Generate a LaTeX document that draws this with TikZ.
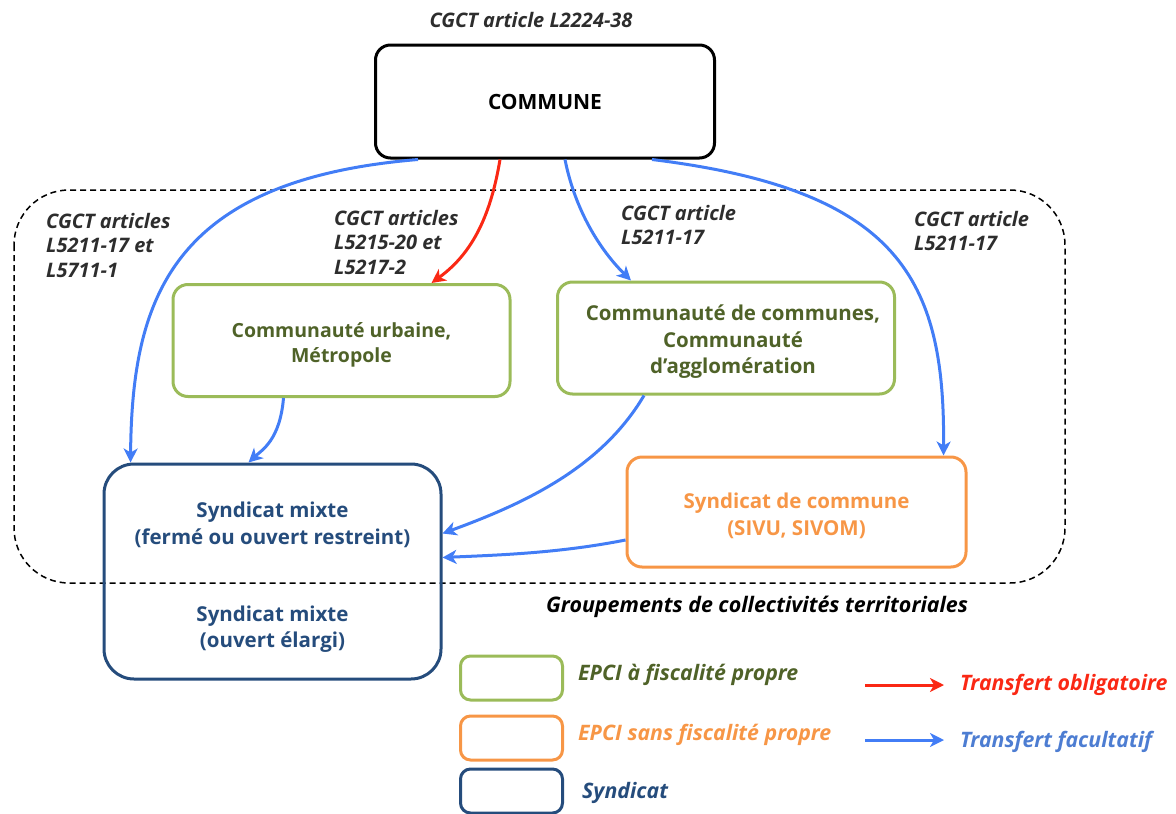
\documentclass[tikz,border=0pt]{standalone}
\usepackage{fontspec}
\setmainfont{Open Sans}
\usetikzlibrary{arrows.meta,calc}
\definecolor{arrblue}{RGB}{66,125,246}
\definecolor{arrred}{RGB}{250,40,20}
\definecolor{gborder}{RGB}{155,187,89}
\definecolor{gtext}{RGB}{79,98,40}
\definecolor{oborder}{RGB}{247,150,70}
\definecolor{navy}{RGB}{37,76,124}
\definecolor{legblue}{RGB}{77,125,210}
\definecolor{lbl}{RGB}{45,45,45}
\tikzset{
  boxbase/.style={rectangle, rounded corners=15pt, line width=3pt},
  commbox/.style={boxbase, draw=black, minimum width=339pt, minimum height=113pt},
  greenbox/.style={boxbase, draw=gborder, minimum width=337pt, minimum height=112pt},
  orangebox/.style={boxbase, draw=oborder, minimum width=339pt, minimum height=110pt},
  navybox/.style={boxbase, rounded corners=30pt, draw=navy, minimum width=337pt, minimum height=215pt},
  boxtext/.style={align=center, font=\fontsize{20.5}{26.5}\selectfont\bfseries},
  legbox/.style={rectangle, rounded corners=10pt, line width=3pt, minimum width=102pt, minimum height=44pt},
  lab/.style={align=left, anchor=north west, text=lbl, font=\fontsize{20}{24.5}\selectfont\bfseries\itshape, inner sep=0pt},
  legtext/.style={anchor=west, font=\fontsize{21.3}{24}\selectfont\bfseries\itshape, inner sep=0pt},
  blueflow/.style={draw=arrblue, line width=3pt, -{Stealth[length=14pt,width=14pt,inset=4pt]}},
  redflow/.style={draw=arrred, line width=3pt, -{Stealth[length=14pt,width=14pt,inset=4pt]}},
}
\begin{document}
\begin{tikzpicture}[x=1pt,y=-1pt]
\useasboundingbox (0,0) rectangle (1176,814);
% dashed group
\draw[black, line width=1.5pt, dash pattern=on 6pt off 4pt, rounded corners=55pt] (14,190) rectangle (1065,583);
% title
\node[text=lbl, font=\fontsize{20}{22}\selectfont\bfseries\itshape] (title) at (531,20) {CGCT article L2224-38};
% main boxes
\node[commbox] (commune) at (545,101.5) {};
\node[boxtext, font=\fontsize{21}{26}\selectfont\bfseries] (communet) at (545,101.5) {COMMUNE};
\node[greenbox] (urb) at (341.5,340.5) {};
\node[boxtext, text=gtext, font=\fontsize{19.5}{25}\selectfont\bfseries] (urbt) at (341.5,345) {Communauté urbaine,\\Métropole};
\node[greenbox] (agg) at (726,338) {};
\node[boxtext, text=gtext] (aggt) at (733,342) {Communauté de communes,\\Communauté\\d’agglomération};
\node[navybox] (mixte) at (272.5,571.5) {};
\node[boxtext, text=navy] (mixtea) at (272.5,525) {Syndicat mixte\\(fermé ou ouvert restreint)};
\node[boxtext, text=navy] (mixteb) at (272.5,629) {Syndicat mixte\\(ouvert élargi)};
\node[orangebox] (sivu) at (796.5,512) {};
\node[boxtext, text=oborder] (sivut) at (796.5,516) {Syndicat de commune\\(SIVU, SIVOM)};
\node[font=\fontsize{21.4}{24}\selectfont\bfseries\itshape, anchor=west, inner sep=0pt] (group) at (546,607) {Groupements de collectivités territoriales};
% labels
\node[lab] (l1) at (46,213) {CGCT articles\\L5211-17 et\\L5711-1};
\node[lab] (l2) at (334,210) {CGCT articles\\L5215-20 et\\L5217-2};
\node[lab] (l3) at (621,205) {CGCT article\\L5211-17};
\node[lab] (l4) at (914,211) {CGCT article\\L5211-17};
% arrows
\draw[blueflow] ($(commune.south west)+(44,0)$) .. controls (170,180) and (132,300) .. ($(mixte.north west)+(28,0)$);
\draw[redflow] ($(commune.south)+(-45,0)$) .. controls (490,220) and (470,255) .. ($(urb.north)+(90,0)$);
\draw[blueflow] ($(commune.south)+(20,0)$) .. controls (575,210) and (600,250) .. ($(agg.north west)+(75,0)$);
\draw[blueflow] ($(commune.south)+(107,0)$) .. controls (900,190) and (945,280) .. ($(sivu.north east)+(-24,0)$);
\draw[blueflow] ($(urb.south)+(-58,0)$) .. controls (280,440) and (262,450) .. ($(mixte.north)+(-24,0)$);
\draw[blueflow] ($(agg.south west)+(88,0)$) .. controls (600,470) and (520,505) .. ($(mixte.east)+(0,-38)$);
\draw[blueflow] ($(sivu.west)+(0,28)$) .. controls (560,553) and (500,555) .. ($(mixte.east)+(0,-14)$);
% legend
\node[legbox, draw=gborder] (lg) at (511.5,678) {};
\node[legtext, text=gtext] (lgt) at (578,675) {EPCI à fiscalité propre};
\node[legbox, draw=oborder] (lo) at (511.5,738) {};
\node[legtext, text=oborder] (lot) at (578,735) {EPCI sans fiscalité propre};
\node[legbox, draw=navy] (ln) at (511.5,791) {};
\node[legtext, text=navy] (lnt) at (582,793) {Syndicat};
\coordinate (ra) at (865,685);
\coordinate (rb) at (944,685);
\draw[redflow] (ra) -- (rb);
\node[legtext, text=arrred] (rt) at (960,685) {Transfert obligatoire};
\coordinate (ba) at (865,740);
\coordinate (bb) at (944,740);
\draw[blueflow] (ba) -- (bb);
\node[legtext, text=legblue] (bt) at (960,742) {Transfert facultatif};
\end{tikzpicture}
\end{document}
